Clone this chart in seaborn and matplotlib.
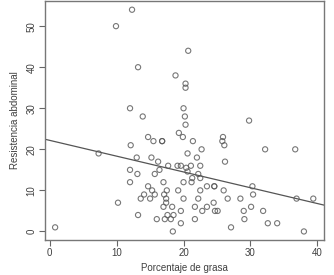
import numpy as np
import seaborn as sns
import matplotlib.pyplot as plt

# =============================================================================
# Data
# =============================================================================

grasa = [
    0.8, 7.3, 9.9, 10.2, 12.3, 12.0, 13.2, 13.9, 14.7, 15.5,
    16.8, 16.8, 12.1, 13.0, 15.2, 16.2, 17.7, 12.0, 16.4, 13.1,
    15.7, 12.0, 17.0, 14.7, 15.3, 17.5, 14.1, 15.7, 17.1, 13.6,
    15.0, 17.4, 17.4, 17.0, 13.2, 16.0, 17.2, 17.6, 18.1, 18.5,
    18.3, 18.4, 19.6, 19.6, 20.7, 18.8, 20.3, 20.3, 20.0, 20.2,
    20.3, 29.8, 19.3, 19.9, 21.4, 25.9, 25.8, 26.1, 22.7, 32.2,
    36.7, 20.6, 22.0, 26.2, 19.1, 19.6, 21.1, 22.5, 20.4, 20.6,
    22.2, 21.3, 22.5, 20.0, 21.2, 23.5, 24.6, 24.6, 30.3, 19.2,
    22.5, 26.0, 30.4, 20.0, 22.2, 26.6, 28.5, 36.9, 39.4, 24.5,
    21.7, 23.5, 30.1, 22.8, 24.7, 25.1, 29.0, 31.9, 21.7, 29.1,
    32.6, 34.0, 27.1, 38.0,
]

resistencia = [
    1, 19, 50, 7, 54, 30, 40, 28, 23, 22,
    22, 22, 21, 18, 18, 17, 16, 15, 15, 14,
    14, 12, 12, 11, 10, 10, 9, 9, 9, 8,
    8, 8, 7, 6, 4, 3, 3, 4, 3, 4,
    6, 0, 2, 5, 44, 38, 36, 35, 30, 28,
    26, 27, 24, 23, 22, 23, 22, 21, 20, 20,
    20, 19, 18, 17, 16, 16, 16, 16, 15.5, 14.6,
    14, 13, 13, 12, 12, 11, 11, 11, 11, 10,
    10, 10, 9, 8, 8, 8, 8, 8, 8, 7,
    6, 6, 6, 5, 5, 5, 5, 5, 3, 3,
    2, 2, 1, 0,
]

x_ticks = [0, 10, 20, 30, 40]
y_ticks = [0, 10, 20, 30, 40, 50]

# =============================================================================
# Plot
# =============================================================================

sns.set_style("white")
plt.rcParams["font.family"] = ["Liberation Sans Narrow", "Liberation Sans", "DejaVu Sans"]

text_col = "#404040"
edge_col = "#555555"

fig = plt.figure(figsize=(3.34, 2.75), dpi=100)
ax = fig.add_axes([0.135, 0.127, 0.835, 0.869])

# limits first so the fitted line spans the whole box
ax.set_xlim(-0.7, 41.0)
ax.set_ylim(-2.1, 56.1)

sns.regplot(
    x=np.array(grasa),
    y=np.array(resistencia),
    ci=None,
    truncate=False,
    scatter_kws=dict(
        s=14,
        facecolors="none",
        edgecolors=edge_col,
        linewidths=0.8,
    ),
    line_kws=dict(color="#555555", linewidth=0.9),
    ax=ax,
)

ax.set_xlim(-0.7, 41.0)
ax.set_ylim(-2.1, 56.1)

ax.set_xticks(x_ticks)
ax.set_yticks(y_ticks)
ax.tick_params(
    axis="both",
    direction="out",
    length=4,
    width=0.8,
    color="#666666",
    labelsize=7,
    labelcolor=text_col,
    bottom=True,
    left=True,
    pad=2,
)
for lab in ax.get_yticklabels():
    lab.set_rotation(90)
    lab.set_va("center")

for side in ["left", "bottom", "top", "right"]:
    ax.spines[side].set_visible(True)
    ax.spines[side].set_color("#777777")
    ax.spines[side].set_linewidth(1.0)

ax.set_xlabel("Porcentaje de grasa", fontsize=7, color=text_col, labelpad=3)
ax.set_ylabel("Resistencia abdominal", fontsize=7, color=text_col, labelpad=5)

fig.savefig("out.png", dpi=100)
